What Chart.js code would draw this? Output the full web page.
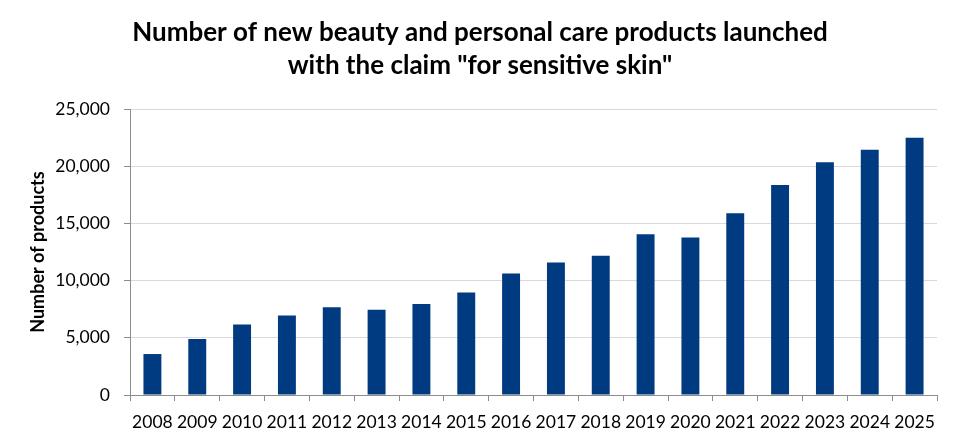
<!DOCTYPE html>
<html>
<head>
<meta charset="utf-8">
<script src="https://cdn.jsdelivr.net/npm/chart.js@4.4.0/dist/chart.umd.min.js"></script>
<style>
html,body{margin:0;padding:0;background:#fff;}
#wrap{width:960px;height:446px;position:relative;}
</style>
</head>
<body>
<div id="wrap"><canvas id="c"></canvas></div>
<script>
const years = ["2008","2009","2010","2011","2012","2013","2014","2015","2016","2017","2018","2019","2020","2021","2022","2023","2024","2025"];
const products = [3580,4890,6170,6950,7680,7450,7950,8960,10620,11580,12170,14060,13770,15890,18360,20340,21450,22500];
const yTicks = [0,5000,10000,15000,20000,25000];
const titleLines = ["Number of new beauty and personal care products launched", "with the claim \"for sensitive skin\""];
const yTitle = "Number of products";

const FONT = "Lato, 'Open Sans', sans-serif";

new Chart(document.getElementById('c'), {
  type: 'bar',
  data: {
    labels: years,
    datasets: [{
      data: products,
      backgroundColor: '#003A80',
      borderWidth: 0,
      categoryPercentage: 1.0,
      barPercentage: 0.4
    }]
  },
  options: {
    responsive: true,
    maintainAspectRatio: false,
    animation: false,
    devicePixelRatio: 1,
    layout: { padding: { left: 0, right: 0, top: 0, bottom: 0 } },
    plugins: {
      legend: { display: false },
      tooltip: { enabled: false },
      title: {
        display: true,
        text: titleLines,
        color: '#000',
        font: { family: FONT, size: 26, weight: 'bold', lineHeight: 1.27 },
        padding: { top: 16, bottom: 27 }
      }
    },
    scales: {
      x: {
        grid: { display: true, drawOnChartArea: false, drawTicks: true, tickLength: 6, offset: true, color: '#8c8c8c', tickColor: '#8c8c8c' },
        border: { display: true, color: '#8c8c8c', width: 1 },
        ticks: { color: '#000', font: { family: FONT, size: 17.5 }, maxRotation: 0, autoSkip: false, padding: 11 },
        afterFit: s => { s.height = 51; }
      },
      y: {
        min: 0,
        max: 25000,
        afterBuildTicks: s => { s.ticks = yTicks.map(v => ({ value: v })); },
        grid: { color: '#d9d9d9', tickLength: 6, tickColor: '#8c8c8c', lineWidth: 1 },
        border: { display: true, color: '#8c8c8c', width: 1 },
        ticks: {
          color: '#000',
          font: { family: FONT, size: 17.5 },
          padding: 14,
          callback: v => v.toLocaleString('en-US')
        },
        title: {
          display: true,
          text: yTitle,
          color: '#000',
          font: { family: FONT, size: 18, weight: 'bold', lineHeight: 1.2 },
          padding: { top: 27, bottom: 0 }
        },
        afterFit: s => { s.width = 130; }
      },
      yRight: {
        position: 'right',
        display: true,
        min: 0,
        max: 25000,
        grid: { display: false, drawTicks: false },
        border: { display: false },
        ticks: { display: false },
        afterFit: s => { s.width = 23; }
      }
    }
  }
});
</script>
</body>
</html>
